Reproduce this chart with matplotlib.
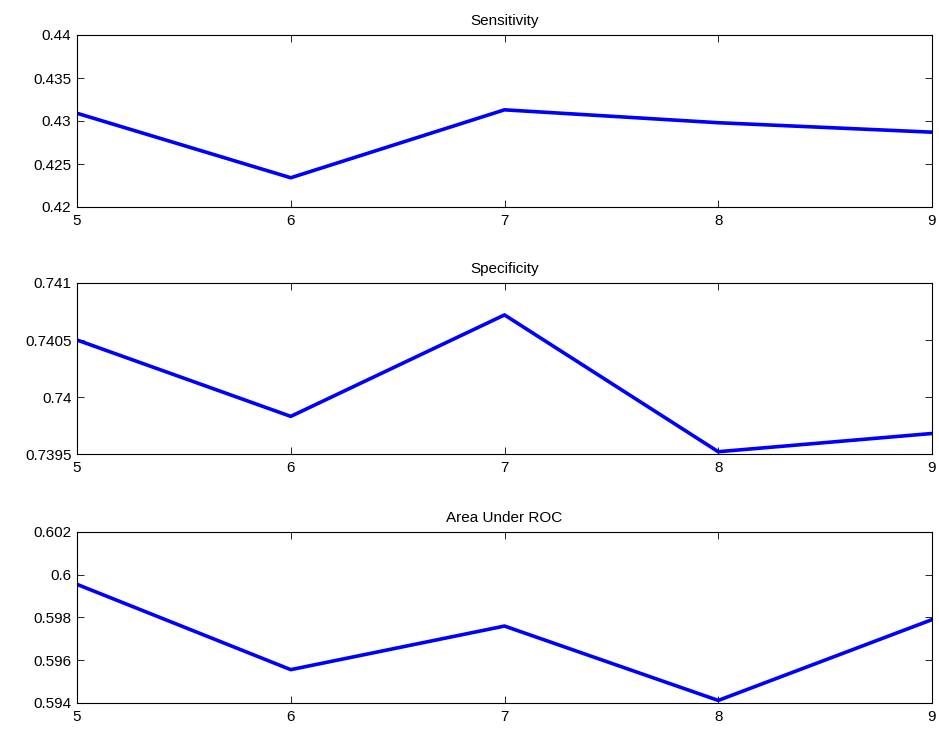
import numpy as np
import matplotlib
matplotlib.use('Agg')
import matplotlib.pyplot as plt

plt.rcParams['font.family'] = ['Liberation Sans', 'DejaVu Sans']

x = [5, 6, 7, 8, 9]
sensitivity = [0.4309, 0.4234, 0.4313, 0.4298, 0.4287]
specificity = [0.74050, 0.73983, 0.74072, 0.73952, 0.73968]
auc = [0.59955, 0.59556, 0.5976, 0.59412, 0.5979]

titles = ['Sensitivity', 'Specificity', 'Area Under ROC']
series = [sensitivity, specificity, auc]
ylims = [(0.42, 0.44), (0.7395, 0.741), (0.594, 0.602)]
yticks = [[0.42, 0.425, 0.43, 0.435, 0.44],
          [0.7395, 0.74, 0.7405, 0.741],
          [0.594, 0.596, 0.598, 0.6, 0.602]]
yticklabels = [['0.42', '0.425', '0.43', '0.435', '0.44'],
               ['0.7395', '0.74', '0.7405', '0.741'],
               ['0.594', '0.596', '0.598', '0.6', '0.602']]

W, H = 939, 729
fig = plt.figure(figsize=(W / 100, H / 100), dpi=100)

# axes boxes in pixels: (top, bottom)
boxes = [(35, 207), (283, 454), (532, 703)]
left, right = 77, 932

for (top, bot), title, y, yl, yt, ytl in zip(boxes, titles, series, ylims, yticks, yticklabels):
    ax = fig.add_axes([left / W, 1 - bot / H, (right - left) / W, (bot - top) / H])
    ax.plot(x, y, color=(0, 0, 1), linewidth=2.6)
    ax.set_xlim(5, 9)
    ax.set_ylim(*yl)
    ax.set_xticks(x)
    ax.set_xticklabels([str(v) for v in x])
    ax.set_yticks(yt)
    ax.set_yticklabels(ytl)
    ax.tick_params(direction='in', top=True, right=True, length=5, width=0.6,
                   labelsize=11, colors='black')
    ax.tick_params(axis='x', pad=5)
    ax.tick_params(axis='y', pad=4)
    for s in ax.spines.values():
        s.set_linewidth(0.8)
    ax.set_title(title, fontsize=11, pad=7)

fig.savefig('out.png', dpi=100)
